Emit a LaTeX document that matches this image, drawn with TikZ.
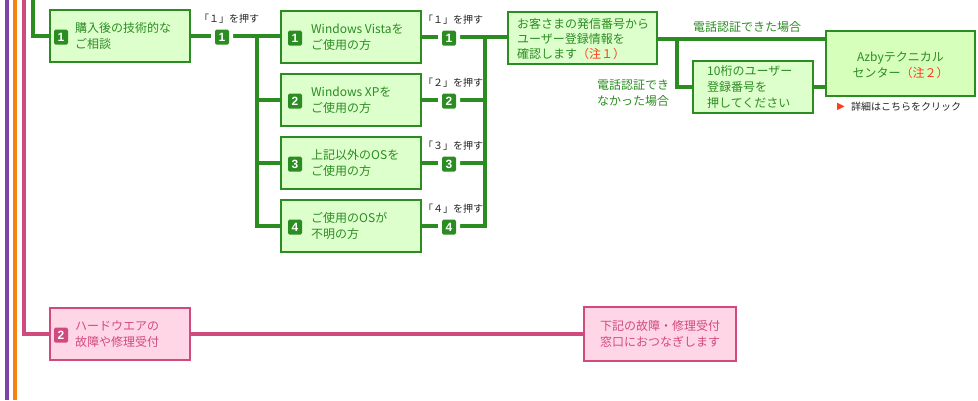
\documentclass[tikz,border=0pt]{standalone}
\usepackage{fontspec}
\newfontfamily\jp{Noto Sans CJK JP}
\newfontfamily\num{Liberation Sans}
\newfontfamily\dv{DejaVu Sans}
\definecolor{G}{HTML}{2B8C22}
\definecolor{GF}{HTML}{DDFFCC}
\definecolor{AF}{HTML}{D6FFBC}
\definecolor{P}{HTML}{D14A7E}
\definecolor{PF}{HTML}{FFD6E6}
\definecolor{PU}{HTML}{7A44A8}
\definecolor{OR}{HTML}{F7820F}
\definecolor{RD}{HTML}{FF3B1A}
\definecolor{TX}{HTML}{222222}
\tikzset{
  gline/.style={line width=4pt, G, line cap=rect},
  pline/.style={line width=4pt, P, line cap=rect},
  vbar/.style={line width=4pt},
  gbox/.style={draw=G, fill=GF, line width=1.2pt, minimum width=140pt, minimum height=52pt, inner sep=0pt},
  pbox/.style={draw=P, fill=PF, line width=1.2pt, minimum width=140pt, minimum height=52pt, inner sep=0pt},
  gtxt/.style={anchor=west, align=left, text=G, inner sep=0pt, font=\jp\fontsize{12}{16}\selectfont},
  ptxt/.style={anchor=west, align=left, text=P, inner sep=0pt, font=\jp\fontsize{12}{16}\selectfont},
  badge/.style={fill=G, text=white, rounded corners=1.5pt, minimum width=14pt, minimum height=15pt, inner sep=0pt, font=\num\bfseries\fontsize{12}{12}\selectfont},
  lbadge/.style={badge, preaction={draw=white, line width=8pt}},
  pbadge/.style={badge, fill=P},
  plabel/.style={text=TX, inner sep=0pt, font=\jp\fontsize{10}{12}\selectfont},
  cond/.style={text=G, inner sep=0pt, align=left, font=\jp\fontsize{12}{16}\selectfont},
}
\begin{document}
\begin{tikzpicture}[x=1pt,y=-1pt]
\useasboundingbox (0,0) rectangle (978,400);
% side bars
\coordinate (pu0) at (7,0);  \coordinate (pu1) at (7,400);
\coordinate (or0) at (15,0); \coordinate (or1) at (15,400);
\coordinate (pk0) at (24,0);
\coordinate (gr0) at (33,0);
\draw[vbar, PU] (pu0) -- (pu1);
\draw[vbar, OR] (or0) -- (or1);

% ---------- green section boxes
\node[gbox] (n1) at (120,36) {};
\node[gbox] (v1) at (351,37) {};
\node[gbox] (v2) at (351,100) {};
\node[gbox] (v3) at (351,163) {};
\node[gbox] (v4) at (351,226) {};
\node[gbox, minimum width=149pt] (cust) at (582.5,38) {};
\node[gbox, minimum width=120pt] (ten) at (753,87) {};
\node[gbox, fill=AF, minimum width=149pt, minimum height=65pt] (az) at (900.5,63.5) {};

% trunks
\coordinate (lt0) at (257,36);
\coordinate (lt1) at (257,226);
\coordinate (rt0) at (485,37);
\coordinate (rt1) at (485,226);
\coordinate (br) at (677,39);

\draw[gline] (gr0) |- (n1.west);
\draw[gline] (n1.east) -- (n1.east -| v1.west);
\draw[gline] (lt0) -- (lt1);
\draw[gline] (lt1) -- (v4.west);
\draw[gline] (v2.west -| lt0) -- (v2.west);
\draw[gline] (v3.west -| lt0) -- (v3.west);
\draw[gline] (rt0) -- (rt1);
\draw[gline] (v1.east) -- (v1.east -| rt0);
\draw[gline] (v2.east) -- (v2.east -| rt0);
\draw[gline] (v3.east) -- (v3.east -| rt0);
\draw[gline] (v4.east) -- (rt1);
\draw[gline] (rt0) -- (rt0 -| cust.west);
\draw[gline] (br -| cust.east) -- (br -| az.west);
\draw[gline] (br) |- (ten.west);
\draw[gline] (ten.east) -- (ten.east -| az.west);

% redraw boxes on top of lines
\node[gbox] at (n1) {};
\node[gbox] at (v1) {};
\node[gbox] at (v2) {};
\node[gbox] at (v3) {};
\node[gbox] at (v4) {};
\node[gbox, minimum width=149pt] at (cust) {};
\node[gbox, minimum width=120pt] at (ten) {};
\node[gbox, fill=AF, minimum width=149pt, minimum height=65pt] at (az) {};

% box contents
\node[badge] (n1b) at (61,37) {1};
\node[gtxt] (n1t) at (75,36) {購入後の技術的な\\ご相談};
\node[badge] (v1b) at (295,38) {1};
\node[gtxt] (v1t) at (311,37) {Windows Vistaを\\ご使用の方};
\node[badge] (v2b) at (295,101) {2};
\node[gtxt] (v2t) at (311,100) {Windows XPを\\ご使用の方};
\node[badge] (v3b) at (295,164) {3};
\node[gtxt] (v3t) at (311,163) {上記以外のOSを\\ご使用の方};
\node[badge] (v4b) at (295,227) {4};
\node[gtxt] (v4t) at (311,226) {ご使用のOSが\\不明の方};
\node[gtxt, font=\jp\fontsize{12}{15}\selectfont] (custt) at (517,39) {お客さまの発信番号から\\ユーザー登録情報を\\確認します\textcolor{RD}{（注１）}};
\node[gtxt] (tent) at (707,87) {10桁のユーザー\\登録番号を\\押してください};
\node[gtxt, anchor=center, align=center] (azt) at (900.5,65) {Azbyテクニカル\\センター\textcolor{RD}{（注２）}};

% line badges and labels
\node[lbadge] (a1) at (222,37) {1};
\node[plabel] (a1l) at (229,19) {「１」を押す};
\node[lbadge] (b1) at (449,38) {1};
\node[plabel] (b1l) at (453,20) {「１」を押す};
\node[lbadge] (b2) at (449,101) {2};
\node[plabel] (b2l) at (453,83) {「２」を押す};
\node[lbadge] (b3) at (449,164) {3};
\node[plabel] (b3l) at (453,146) {「３」を押す};
\node[lbadge] (b4) at (449,227) {4};
\node[plabel] (b4l) at (453,209) {「４」を押す};

% condition labels
\node[cond, anchor=west] (c1) at (693,27) {電話認証できた場合};
\node[cond, anchor=west] (c2) at (597,93) {電話認証でき\\なかった場合};
\node[inner sep=0pt, anchor=west, text=RD, font=\dv\fontsize{10}{10}\selectfont] (tri) at (837,107) {▶};
\node[plabel, anchor=west] (more) at (851,107) {詳細はこちらをクリック};

% ---------- pink section
\node[pbox] (h) at (120,334) {};
\node[pbox, minimum width=152pt, minimum height=54pt] (hr) at (660,334) {};
\draw[pline] (pk0) |- (h.west);
\draw[pline] (h.east) -- (hr.west);
\node[pbox] at (h) {};
\node[pbox, minimum width=152pt, minimum height=54pt] at (hr) {};
\node[pbadge] (hb) at (61,335) {2};
\node[ptxt] (ht) at (75,334) {ハードウエアの\\故障や修理受付};
\node[ptxt, anchor=center, align=center] (hrt) at (660,334) {下記の故障・修理受付\\窓口におつなぎします};
\end{tikzpicture}
\end{document}
